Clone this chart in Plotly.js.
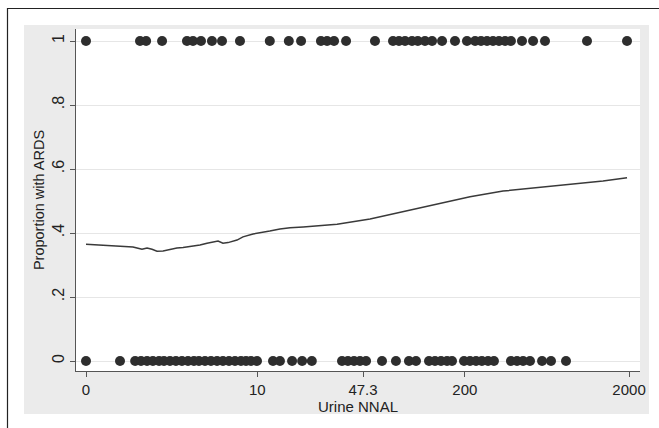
<!DOCTYPE html>
<html>
<head>
<meta charset="utf-8">
<script src="https://cdn.plot.ly/plotly-3.0.1.min.js"></script>
<style>html,body{margin:0;padding:0;background:#fff;}#chart{width:659px;height:428px;}</style>
</head>
<body>
<div id="chart"></div>
<script>
// Urine NNAL values of patients with ARDS (outcome = 1)
var nnalArds = [0, 1.13, 1.32, 1.90, 3.11, 3.47, 4.00, 4.83, 5.71, 7.63, 12.1, 16.1, 19.3, 25.8, 28.2, 31.2, 37.1, 56.1, 72.5, 78.9, 86.0, 94.9, 103, 114, 126, 145, 174, 206, 231, 251, 273, 297, 323, 352, 382, 446, 521, 616, 1110, 1944];
var outcomeArds = nnalArds.map(function(){return 1;});
// Urine NNAL values of patients without ARDS (outcome = 0)
var nnalNoArds = [0, 0.61, 0.99, 1.16, 1.35, 1.55, 1.78, 1.98, 2.24, 2.52, 2.83, 3.17, 3.53, 3.86, 4.29, 4.75, 5.26, 5.80, 6.40, 7.05, 7.75, 8.39, 9.07, 9.95, 12.7, 14.1, 16.9, 19.6, 22.6, 35.0, 38.1, 41.6, 45.3, 49.4, 62.0, 75.6, 90.9, 100.4, 120.7, 131.3, 142.9, 155.5, 166.9, 197.6, 215, 234, 254, 277, 301, 382, 416, 453, 499, 591, 670, 827];
var outcomeNoArds = nnalNoArds.map(function(){return 0;});
// Lowess smoothed proportion with ARDS
var lowessNnal = [0, 0.22, 0.61, 0.93, 1.19, 1.35, 1.52, 1.70, 1.94, 2.24, 2.57, 2.89, 3.17, 3.47, 3.93, 4.44, 4.92, 5.35, 5.80, 6.30, 7.28, 8.00, 9.36, 10.75, 12.1, 14.1, 16.4, 19.9, 32.6, 52.3, 83.6, 135, 215, 342, 550, 875, 1389, 1944];
var lowessProp = [0.365, 0.3625, 0.360, 0.356, 0.349, 0.353, 0.349, 0.343, 0.344, 0.349, 0.353, 0.355, 0.357, 0.360, 0.3625, 0.368, 0.373, 0.375, 0.368, 0.370, 0.378, 0.388, 0.397, 0.401, 0.406, 0.4125, 0.4166, 0.419, 0.427, 0.444, 0.4666, 0.490, 0.513, 0.531, 0.5416, 0.552, 0.5625, 0.573];
// Axis ticks
var xTickValues = [0, 10, 47.3, 200, 2000];
var xTickLabels = ['0', '10', '47.3', '200', '2000'];
var yTickValues = [0, 0.2, 0.4, 0.6, 0.8, 1];
var yTickLabels = ['0', '.2', '.4', '.6', '.8', '1'];

function tx(v){ return Math.log10(v + 1); }

var dotColor = '#2e2e2e';
var traces = [
  {x: nnalArds.map(tx), y: outcomeArds, type: 'scatter', mode: 'markers',
   marker: {color: dotColor, size: 10, line: {width: 0}}, hoverinfo: 'skip', cliponaxis: false},
  {x: nnalNoArds.map(tx), y: outcomeNoArds, type: 'scatter', mode: 'markers',
   marker: {color: dotColor, size: 10, line: {width: 0}}, hoverinfo: 'skip', cliponaxis: false},
  {x: lowessNnal.map(tx), y: lowessProp, type: 'scatter', mode: 'lines',
   line: {color: '#3a3a3a', width: 1.5}, hoverinfo: 'skip'}
];

var L = 76, R = 640, T = 29, B = 371;
function px(x){ return (x - L) / (R - L); }
function py(y){ return (B - y) / (B - T); }

var layout = {
  width: 659, height: 428,
  margin: {l: L, r: 659 - R, t: T, b: 428 - B, pad: 0},
  paper_bgcolor: '#ffffff', plot_bgcolor: 'rgba(0,0,0,0)',
  showlegend: false,
  font: {family: 'Liberation Sans, Arial, sans-serif', color: '#222', size: 14},
  xaxis: {
    range: [(L - 86) / 164.5, (R - 86) / 164.5],
    tickmode: 'array', tickvals: xTickValues.map(tx), ticktext: xTickLabels,
    ticks: 'outside', ticklen: 5, tickwidth: 1, tickcolor: '#555',
    showgrid: false, zeroline: false,
    showline: true, linecolor: '#555', linewidth: 1,
    tickfont: {size: 15, color: '#222'},
    title: {text: 'Urine NNAL', font: {size: 15, color: '#222'}, standoff: 1},
    fixedrange: true
  },
  yaxis: {
    range: [(361 - B) / 320, (361 - T) / 320],
    tickmode: 'array', tickvals: yTickValues, ticktext: yTickLabels,
    tickangle: -90,
    ticks: 'outside', ticklen: 5, tickwidth: 1, tickcolor: '#555',
    showgrid: true, gridcolor: '#e6e6e6', gridwidth: 1, zeroline: false,
    showline: true, linecolor: '#555', linewidth: 1,
    tickfont: {size: 16, color: '#222'},
    title: {text: 'Proportion with ARDS', font: {size: 14.5, color: '#222'}, standoff: 1},
    fixedrange: true
  },
  shapes: [
    {type: 'rect', xref: 'paper', yref: 'paper', layer: 'below',
     x0: px(7.5), x1: px(665), y0: py(8.5), y1: py(440),
     fillcolor: '#ffffff', line: {color: '#222', width: 1.2}},
    {type: 'rect', xref: 'paper', yref: 'paper', layer: 'below',
     x0: px(24), x1: px(649), y0: py(25), y1: py(414),
     fillcolor: '#ebebeb', line: {width: 0}},
    {type: 'rect', xref: 'paper', yref: 'paper', layer: 'below',
     x0: px(76), x1: px(640), y0: py(29), y1: py(371),
     fillcolor: '#ffffff', line: {width: 0}}
  ]
};

Plotly.newPlot('chart', traces, layout, {displayModeBar: false, staticPlot: true});
</script>
</body>
</html>
